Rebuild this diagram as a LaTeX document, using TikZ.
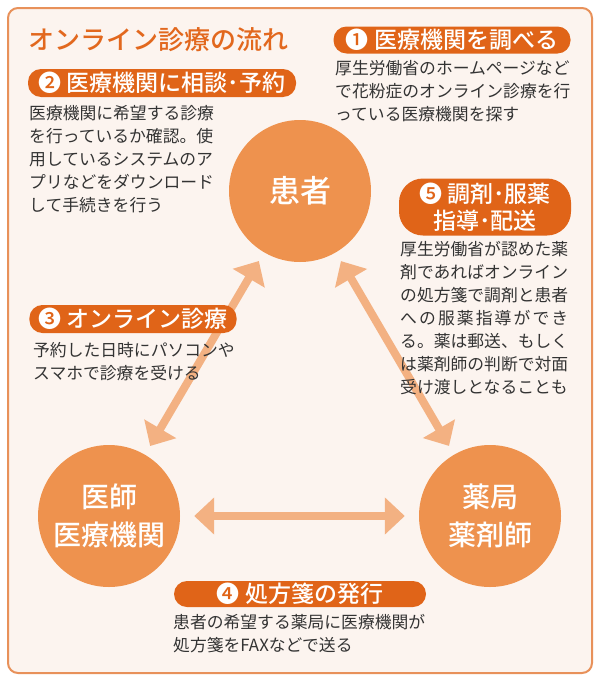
\documentclass[tikz,border=0pt]{standalone}
\usepackage{fontspec}
\setmainfont{Noto Sans CJK JP}
\newfontfamily\medfont{Noto Sans CJK JP Medium}
\usepackage{tikz}
\usetikzlibrary{arrows.meta}

\definecolor{pillc}{HTML}{E06418}
\definecolor{circc}{HTML}{EE924E}
\definecolor{arrc}{HTML}{F3B182}
\definecolor{framec}{HTML}{E8915A}
\definecolor{bgc}{HTML}{FCF4EF}
\definecolor{titlec}{HTML}{E2681E}
\definecolor{txtc}{HTML}{333333}

\begin{document}
\begin{tikzpicture}[
    x=1pt, y=-1pt,
    pill/.style={fill=pillc, text=white, rounded corners=13pt, minimum height=27pt, inner xsep=9pt, inner ysep=0pt, font=\medfont\fontsize{23}{27}\selectfont},
    note/.style={anchor=north west, inner sep=0pt, align=left, text=txtc, font=\fontsize{16.8}{23}\selectfont},
    party/.style={circle, fill=circc, minimum size=142pt, inner sep=0pt, text=white, align=center, font=\medfont\fontsize{28}{38}\selectfont},
    link/.style={draw=arrc, line width=8pt, {Triangle[width=36pt,length=20pt]}-{Triangle[width=36pt,length=20pt]}}
  ]
    \useasboundingbox (0,0) rectangle (599,680);
    \fill[white] (0,0) rectangle (599,680);
    \draw[framec, line width=2pt, fill=bgc, rounded corners=10pt] (8,8) rectangle (592,673);

    \node[anchor=west, inner sep=0pt, text=titlec, font=\medfont\fontsize{26}{30}\selectfont] (title) at (28,40) {オンライン診療の流れ};

    % the three parties
    \node[party, font=\medfont\fontsize{31}{36}\selectfont] (patient) at (300,191) {患者};
    \node[party] (doctor) at (109,516) {医師\\医療機関};
    \node[party] (pharmacy) at (490,516) {薬局\\薬剤師};

    \draw[link, shorten <=10pt, shorten >=10pt] (doctor) -- (patient);
    \draw[link, shorten <=10pt, shorten >=10pt] (patient) -- (pharmacy);
    \draw[link, shorten <=14pt, shorten >=14pt] (doctor) -- (pharmacy);

    % steps
    \node[pill, minimum width=237pt] (step1) at (452,40) {❶ 医療機関を調べる};
    \node[note] (text1) at (335,60) {厚生労働省のホームページなど\\で花粉症のオンライン診療を行\\っている医療機関を探す};

    \node[pill, minimum width=268pt, minimum height=28pt] (step2) at (162,83) {❷ 医療機関に相談･予約};
    \node[note] (text2) at (29,105) {医療機関に希望する診療\\を行っているか確認。使\\用しているシステムのア\\プリなどをダウンロード\\して手続きを行う};

    \node[pill, minimum width=206pt, minimum height=28pt] (step3) at (133,319) {❸ オンライン診療};
    \node[note] (text3) at (33,342) {予約した日時にパソコンや\\スマホで診療を受ける};

    \node[pill, minimum width=252pt, minimum height=26pt] (step4) at (300,594) {❹ 処方箋の発行};
    \node[note] (text4) at (173,614) {患者の希望する薬局に医療機関が\\処方箋をFAXなどで送る};

    \node[pill, minimum width=172pt, minimum height=57pt, rounded corners=24pt, align=center] (step5) at (485,207) {❺ 調剤･服薬\\指導･配送};
    \node[note] (text5) at (400,241) {厚生労働省が認めた薬\\剤であればオンライン\\の処方箋で調剤と患者\\\makebox[168pt]{へ\hfill の\hfill 服\hfill 薬\hfill 指\hfill 導\hfill が\hfill で\hfill き}\\る。薬は郵送、もしく\\は薬剤師の判断で対面\\受け渡しとなることも};
\end{tikzpicture}
\end{document}
